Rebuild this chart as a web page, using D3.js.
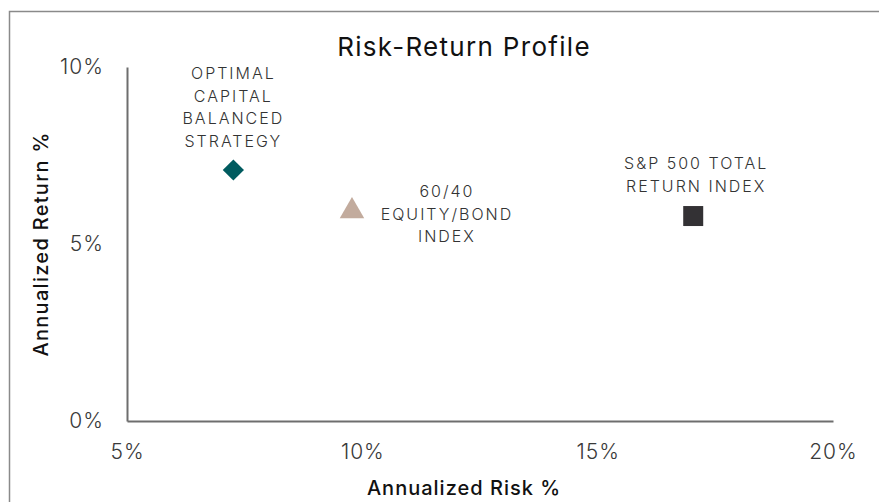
<!DOCTYPE html>
<html>
<head>
<meta charset="utf-8">
<script src="https://cdn.jsdelivr.net/npm/d3@7"></script>
<style>
  body { margin: 0; background: #fff; }
  text { font-family: Inter, "Open Sans", sans-serif; }
</style>
</head>
<body>
<svg id="chart" width="879" height="502"></svg>
<script>
// data
const names = ["OPTIMAL CAPITAL BALANCED STRATEGY", "60/40 EQUITY/BOND INDEX", "S&P 500 TOTAL RETURN INDEX"];
const labelLines = [["OPTIMAL", "CAPITAL", "BALANCED", "STRATEGY"], ["60/40", "EQUITY/BOND", "INDEX"], ["S&P 500 TOTAL", "RETURN INDEX"]];
const risk = [7.26, 9.78, 17.03];
const ret = [7.09, 5.93, 5.79];
const shapes = [d3.symbolSquare, d3.symbolTriangle, d3.symbolSquare];
const rotations = [45, 0, 0];
const colors = ["#005b5f", "#c2ab9d", "#333134"];
const xTicks = [5, 10, 15, 20];
const yTicks = [0, 5, 10];

const svg = d3.select("#chart");

// outer frame
svg.append("rect")
    .attr("x", 9.5).attr("y", 11.5)
    .attr("width", 900).attr("height", 520)
    .attr("fill", "none")
    .attr("stroke", "#8a8a8a")
    .attr("stroke-width", 1.5);

const x = d3.scaleLinear().domain([5, 20]).range([127, 833]);
const y = d3.scaleLinear().domain([0, 10]).range([421, 67]);

const axisColor = "#6e6e6e";

const xAxis = svg.append("g")
    .attr("transform", `translate(0,${y(0)})`)
    .call(d3.axisBottom(x).tickValues(xTicks).tickSize(0).tickPadding(23).tickFormat(d => d + "%"));
const yAxis = svg.append("g")
    .attr("transform", `translate(${x(5)},0)`)
    .call(d3.axisLeft(y).tickValues(yTicks).tickSize(0).tickPadding(23).tickFormat(d => d + "%"));

[xAxis, yAxis].forEach(a => {
    a.select(".domain").attr("stroke", axisColor).attr("stroke-width", 2);
    a.selectAll("text")
        .attr("fill", "#3a3a3a")
        .style("font-family", "Inter, sans-serif")
        .style("font-size", "21px")
        .style("font-weight", 300)
        .style("letter-spacing", "1px");
});

// title
svg.append("text")
    .attr("x", 464).attr("y", 56)
    .attr("text-anchor", "middle")
    .style("font-size", "26px")
    .style("font-weight", 400)
    .style("letter-spacing", "1.3px")
    .attr("fill", "#111")
    .text("Risk-Return Profile");

svg.append("text")
    .attr("x", 464).attr("y", 495)
    .attr("text-anchor", "middle")
    .style("font-size", "20px")
    .style("font-weight", 500)
    .style("letter-spacing", "1px")
    .attr("fill", "#111")
    .text("Annualized Risk %");

svg.append("text")
    .attr("transform", `translate(48,${y(5)}) rotate(-90)`)
    .attr("text-anchor", "middle")
    .style("font-size", "20px")
    .style("font-weight", 500)
    .style("letter-spacing", "1.3px")
    .attr("fill", "#111")
    .text("Annualized Return %");

// markers
const sizes = [225, 260, 400];
names.forEach((n, i) => {
    svg.append("path")
        .attr("d", d3.symbol().type(shapes[i]).size(sizes[i])())
        .attr("transform", `translate(${x(risk[i])},${y(ret[i])}) rotate(${rotations[i]})`)
        .attr("fill", colors[i]);
});

// point labels (offsets relative to each point)
const labelDx = [0, 95, 3];
const labelDy = [-91, -14, -47];
names.forEach((n, i) => {
    const t = svg.append("text")
        .attr("text-anchor", "middle")
        .attr("fill", "#333")
        .style("font-size", "16px")
        .style("font-weight", 300)
        .style("letter-spacing", "2px");
    labelLines[i].forEach((line, j) => {
        t.append("tspan")
            .attr("x", x(risk[i]) + labelDx[i])
            .attr("y", y(ret[i]) + labelDy[i] + j * 22.5)
            .text(line);
    });
});
</script>
</body>
</html>
